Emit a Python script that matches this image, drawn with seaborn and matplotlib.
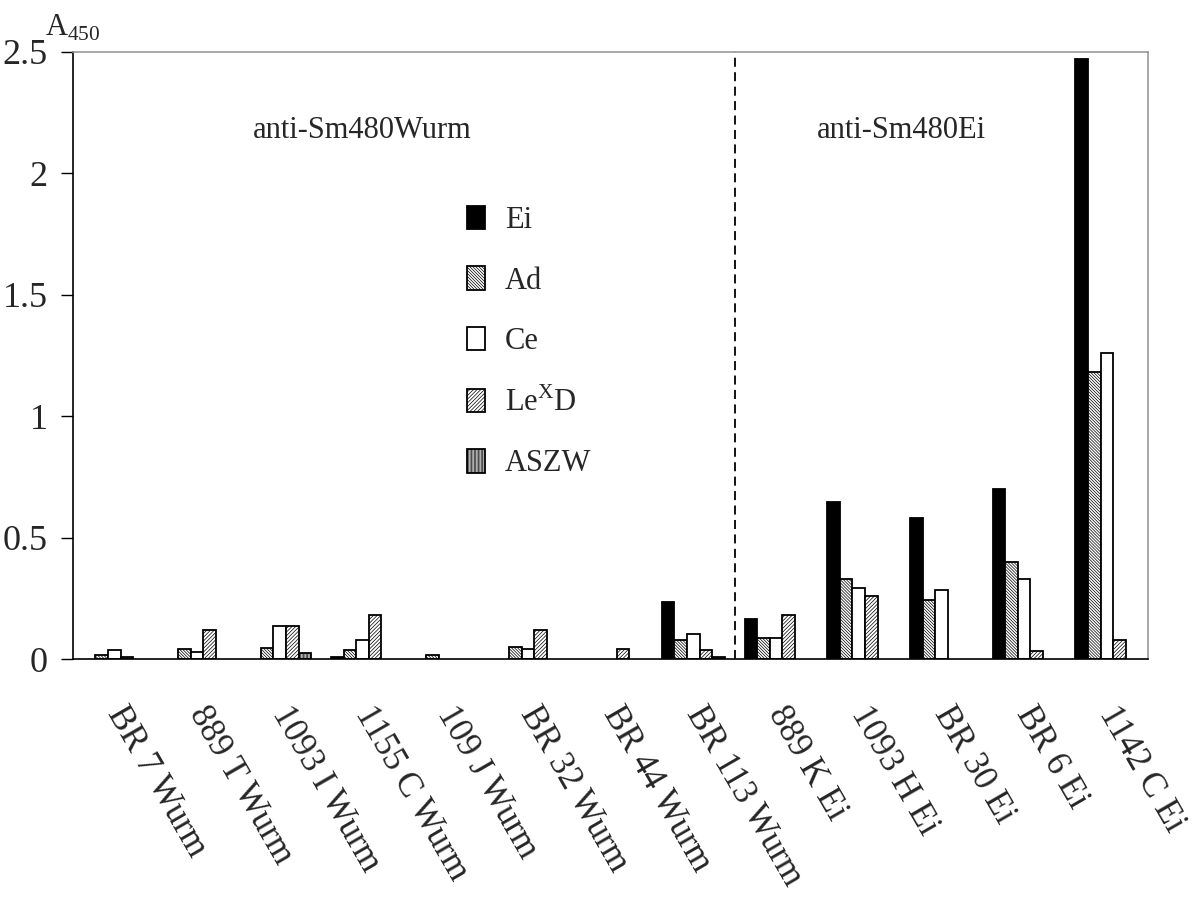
import numpy as np
import pandas as pd
import seaborn as sns
import matplotlib.pyplot as plt
import matplotlib.transforms as mtransforms
from matplotlib.patches import Patch

# Sera / samples along the x axis
categories = ["BR 7 Wurm", "889 T Wurm", "1093 I Wurm", "1155 C Wurm", "109 J Wurm",
              "BR 32 Wurm", "BR 44 Wurm", "BR 113 Wurm", "889 K Ei", "1093 H Ei",
              "BR 30 Ei", "BR 6 Ei", "1142 C Ei"]
antigens = ["Ei", "Ad", "Ce", "LeXD", "ASZW"]
legend_labels = ["Ei", "Ad", "Ce", "Le$^\\mathregular{X}$D", "ASZW"]

# A450 values
ei = [0.0, 0.0, 0.0, 0.01, 0.0, 0.0, 0.0, 0.235, 0.166, 0.648, 0.58, 0.70, 2.47]
ad = [0.018, 0.042, 0.044, 0.036, 0.018, 0.051, 0.0, 0.078, 0.088, 0.328, 0.241, 0.398, 1.183]
ce = [0.036, 0.028, 0.137, 0.078, 0.0, 0.042, 0.0, 0.104, 0.088, 0.291, 0.285, 0.33, 1.26]
lexd = [0.01, 0.12, 0.137, 0.181, 0.0, 0.12, 0.042, 0.036, 0.181, 0.26, 0.0, 0.035, 0.08]
aszw = [0.0, 0.0, 0.026, 0.0, 0.0, 0.0, 0.0, 0.01, 0.0, 0.0, 0.0, 0.0, 0.0]

ytick_values = [0, 0.5, 1, 1.5, 2, 2.5]
ytick_labels = ["0", "0.5", "1", "1.5", "2", "2.5"]

df = pd.DataFrame({"category": categories * 5,
                   "antigen": np.repeat(antigens, len(categories)),
                   "value": ei + ad + ce + lexd + aszw})

sns.set_style("white")
plt.rcParams['font.family'] = ['Liberation Serif', 'DejaVu Serif']
plt.rcParams['mathtext.fontset'] = 'custom'
plt.rcParams['mathtext.rm'] = 'Liberation Serif'
plt.rcParams['hatch.linewidth'] = 0.5

colors = {"Ei": "black", "Ad": "white", "Ce": "white", "LeXD": "white", "ASZW": "white"}
hatches = ["", "\\" * 11, "", "/" * 9, "|" * 12]

fig = plt.figure(figsize=(11.96, 9.02), dpi=100)
ax = fig.add_axes([0.061, 0.2694, 0.899, 0.673])

sns.barplot(data=df, x="category", y="value", hue="antigen", order=categories,
            hue_order=antigens, palette=colors, width=0.76, saturation=1,
            edgecolor="black", linewidth=1.3, errorbar=None, legend=False, ax=ax)

for cont, h in zip(ax.containers, hatches):
    for p in cont:
        p.set_hatch(h)
        if p.get_height() <= 0:
            p.set_visible(False)

ax.set_xlim(-0.5, len(categories) - 0.5)
ax.set_ylim(0, 2.5)
ax.set_xlabel("")
ax.set_ylabel("")

# category labels at centres, tick marks at the group boundaries
ax.set_xticks(np.arange(len(categories)))
ax.set_xticklabels(categories, rotation=-60, ha="left", va="top",
                   rotation_mode="anchor", fontsize=25)
ax.tick_params(axis="x", which="major", length=0, pad=30)
shift = mtransforms.ScaledTranslation(14 / 100, 0, fig.dpi_scale_trans)
for lbl in ax.get_xticklabels():
    lbl.set_transform(lbl.get_transform() + shift)
ax.set_xticks(np.arange(len(categories) + 1) - 0.5, minor=True)
ax.tick_params(axis="x", which="minor", length=12, width=1, direction="out", color="black")

ax.set_yticks(ytick_values)
ax.set_yticklabels(ytick_labels, fontsize=26)
ax.tick_params(axis="y", length=9, width=1, direction="out", color="black", pad=9, left=True)

for s in ["left", "bottom"]:
    ax.spines[s].set_color("black")
    ax.spines[s].set_linewidth(1.2)
for s in ["top", "right"]:
    ax.spines[s].set_color("#999999")
    ax.spines[s].set_linewidth(1.2)

# divider between the two sera groups
ax.axvline(7.5, color="black", linestyle=(0, (5, 3)), linewidth=1.3)

ax.text(1.68, 2.175, "anti-Sm480Wurm", fontsize=22, va="center", ha="left")
ax.text(8.5, 2.175, "anti-Sm480Ei", fontsize=22, va="center", ha="left")

fig.text(45 / 1196, 1 - 36 / 902, "A$_\\mathregular{450}$", fontsize=22, ha="left", va="baseline")

handles = [Patch(facecolor=colors[a], edgecolor="black", hatch=h, linewidth=1.3)
           for a, h in zip(antigens, hatches)]
ax.legend(handles, legend_labels, loc="upper left",
          bbox_to_anchor=(467 / 1196, 1 - 206 / 902), bbox_transform=fig.transFigure,
          frameon=False, fontsize=22, handlelength=0.6, handleheight=0.8,
          handletextpad=0.65, labelspacing=1.02, borderpad=0, borderaxespad=0)

fig.savefig("out.png", dpi=100)
